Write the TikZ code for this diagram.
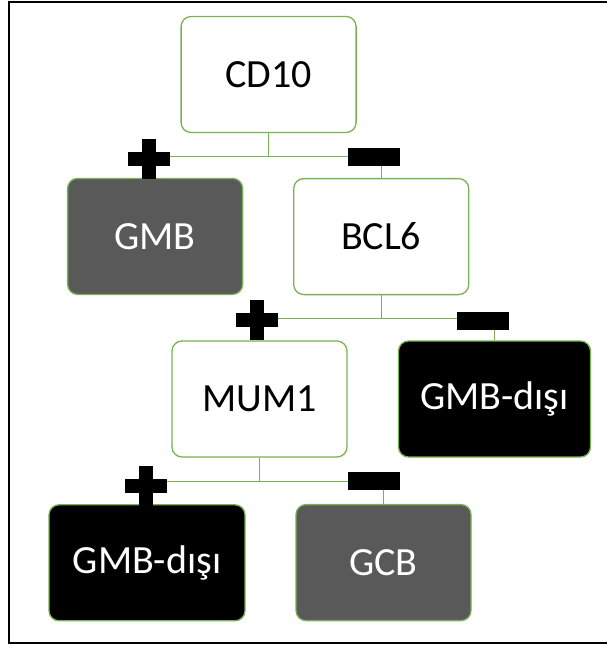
\documentclass[tikz,border=0pt]{standalone}
\usepackage{fontspec}
\setmainfont{Carlito}
\definecolor{boxline}{RGB}{120,178,82}
\definecolor{darkfill}{RGB}{89,89,89}
\tikzset{
  x=1pt, y=-1pt,
  box/.style={draw=boxline, line width=1.3pt, rounded corners=10pt,
    minimum width=175pt, minimum height=116pt, inner sep=0pt,
    font=\fontsize{40}{48}\selectfont},
  lightbox/.style={box, fill=white, text=black},
  greybox/.style={box, fill=darkfill, text=white},
  blackbox/.style={box, fill=black, text=white},
  link/.style={draw=boxline, line width=1.3pt},
  plusmark/.pic={
    \fill[black] (-21,-7) rectangle (21,7);
    \fill[black] (-7,-20) rectangle (7,20);
  },
  minusmark/.pic={
    \fill[black] (-26,-9) rectangle (26,9);
  }
}
\begin{document}
\begin{tikzpicture}
\useasboundingbox (0,0) rectangle (606,648);
% outer frame (its right side runs past the page edge)
\draw[line width=2pt] (9,2) rectangle (614,643);

% decision boxes
\node[lightbox] (cd10) at (268.6,74.5) {CD10};
\node[greybox]  (gmb)  at (155.1,236.4) {GMB};
\node[lightbox] (bcl6) at (381.2,236.6) {BCL6};
\node[lightbox] (mum1) at (259.5,399) {MUM1};
\node[blackbox, minimum width=192pt] (nongcbA) at (494.5,399) {GMB-dışı};
\node[blackbox, minimum width=196pt] (nongcbB) at (147,562.8) {GMB-dışı};
\node[greybox]  (gcb)  at (383.5,562.6) {GCB};

% elbow connectors
\draw[link] (cd10.south) -- ++(0,23.2) -| (gmb.north);
\draw[link] (cd10.south) -- ++(0,23.2) -| (bcl6.north);
\draw[link] (bcl6.south) -- ++(0,23.5) -| (mum1.north);
\draw[link] (bcl6.south) -- ++(0,23.5) -| (nongcbA.north);
\draw[link] (mum1.south) -- ++(0,23.7) -| (nongcbB.north);
\draw[link] (mum1.south) -- ++(0,23.7) -| (gcb.north);

% positive / negative markers
\pic at (148.7,159.3) {plusmark};
\pic at (374.2,157.2) {minusmark};
\pic at (257,320) {plusmark};
\pic at (482.8,320.8) {minusmark};
\pic at (145.7,485.6) {plusmark};
\pic at (374.2,480.8) {minusmark};
\end{tikzpicture}
\end{document}
